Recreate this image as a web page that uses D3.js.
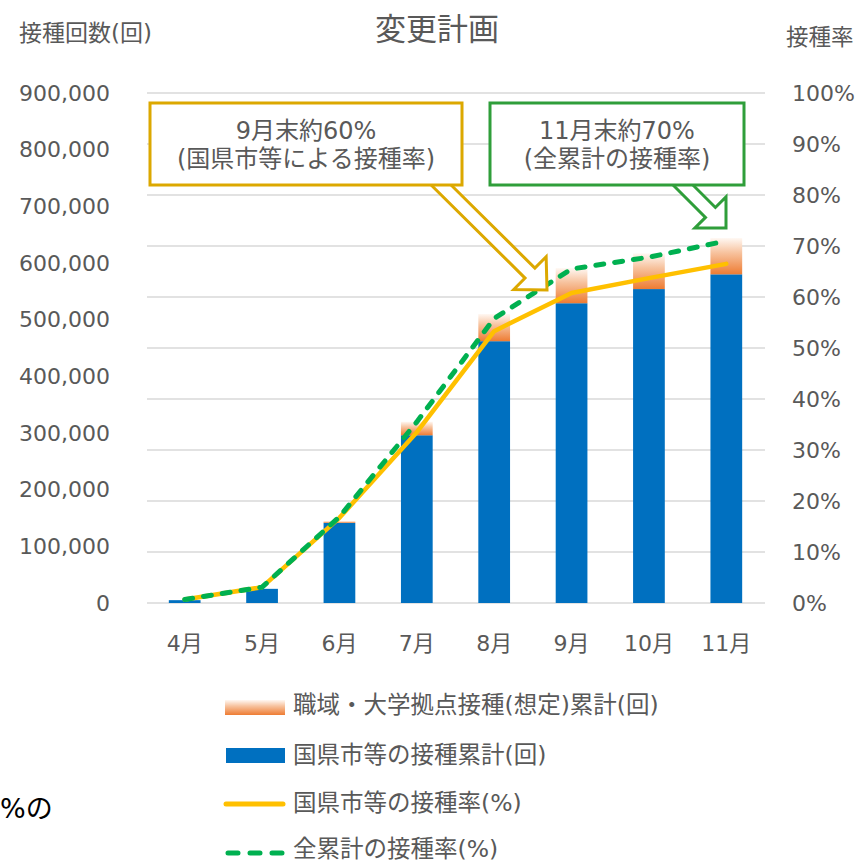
<!DOCTYPE html>
<html>
<head>
<meta charset="utf-8">
<script src="https://cdn.jsdelivr.net/npm/d3@7"></script>
<style>
  body { margin: 0; background: #fff; }
  svg { display: block; }
  text { font-family: 'DejaVu Sans', 'Noto Sans CJK JP', sans-serif; fill: #595959; }
</style>
</head>
<body>
<script>
const months = ["4月", "5月", "6月", "7月", "8月", "9月", "10月", "11月"];
// 国県市等の接種累計(回)
const kokenCount = [5000, 25000, 141500, 296000, 462000, 529000, 554000, 580000];
// 職域・大学拠点接種(想定)累計(回)
const shokuikiCount = [0, 0, 3000, 24000, 48000, 62000, 63000, 64000];
// 国県市等の接種率(%)
const kokenRate = [0.7, 3.1, 16.7, 33.5, 53.3, 60.8, 63.7, 66.5];
// 全累計の接種率(%)
const totalRate = [0.7, 3.1, 16.9, 35.5, 55.8, 65.5, 67.8, 71.0];

const countTicks = [0, 100000, 200000, 300000, 400000, 500000, 600000, 700000, 800000, 900000];
const rateTicks = [0, 10, 20, 30, 40, 50, 60, 70, 80, 90, 100];

const legendLabels = [
    "職域・大学拠点接種(想定)累計(回)",
    "国県市等の接種累計(回)",
    "国県市等の接種率(%)",
    "全累計の接種率(%)"
];

const W = 861, H = 862;
const plot = { left: 146, right: 765, top: 93, bottom: 603 };

const svg = d3.select("body")
    .append("svg")
    .attr("width", W)
    .attr("height", H);

const defs = svg.append("defs");
const grad = defs.append("linearGradient")
    .attr("id", "orangeGrad")
    .attr("x1", 0).attr("y1", 0).attr("x2", 0).attr("y2", 1);
grad.append("stop").attr("offset", "0%").attr("stop-color", "#fff8f3");
grad.append("stop").attr("offset", "40%").attr("stop-color", "#f7c39f");
grad.append("stop").attr("offset", "100%").attr("stop-color", "#ee7c33");

const x = d3.scaleBand()
    .domain(months)
    .range([plot.left, plot.right])
    .paddingInner(0.59)
    .paddingOuter(0.295);
const yCount = d3.scaleLinear().domain([0, 900000]).range([plot.bottom, plot.top]);
const yRate = d3.scaleLinear().domain([0, 100]).range([plot.bottom, plot.top]);

// gridlines (from right axis)
svg.append("g")
    .selectAll("line")
    .data(rateTicks)
    .enter().append("line")
    .attr("x1", plot.left + 1)
    .attr("x2", plot.right)
    .attr("y1", d => yRate(d))
    .attr("y2", d => yRate(d))
    .attr("stroke", "#d9d9d9")
    .attr("stroke-width", 1.3);

/**
 * Axes
 */
const leftAxis = svg.append("g")
    .attr("transform", "translate(" + plot.left + ",0)")
    .call(d3.axisLeft(yCount).tickValues(countTicks).tickFormat(d3.format(",")).tickSize(0).tickPadding(36));
const rightAxis = svg.append("g")
    .attr("transform", "translate(" + plot.right + ",0)")
    .call(d3.axisRight(yRate).tickValues(rateTicks).tickFormat(d => d + "%").tickSize(0).tickPadding(27));
const bottomAxis = svg.append("g")
    .attr("transform", "translate(0," + plot.bottom + ")")
    .call(d3.axisBottom(x).tickSize(0).tickPadding(32));

[leftAxis, rightAxis, bottomAxis].forEach(a => {
    a.select(".domain").remove();
    a.selectAll("text")
        .style("font-family", "'DejaVu Sans', 'Noto Sans CJK JP', sans-serif")
        .style("font-size", "22px")
        .attr("fill", "#595959");
});

/**
 * Bars
 */
const bw = x.bandwidth();
svg.append("g")
    .selectAll("rect")
    .data(months)
    .enter().append("rect")
    .attr("x", d => x(d))
    .attr("width", bw)
    .attr("y", (d, i) => yCount(kokenCount[i]))
    .attr("height", (d, i) => yCount(0) - yCount(kokenCount[i]))
    .attr("fill", "#0070c0");

svg.append("g")
    .selectAll("rect")
    .data(months.filter((d, i) => shokuikiCount[i] > 0))
    .enter().append("rect")
    .attr("x", d => x(d))
    .attr("width", bw)
    .attr("y", d => {
        const i = months.indexOf(d);
        return yCount(kokenCount[i] + shokuikiCount[i]);
    })
    .attr("height", d => {
        const i = months.indexOf(d);
        return yCount(kokenCount[i]) - yCount(kokenCount[i] + shokuikiCount[i]);
    })
    .attr("fill", "url(#orangeGrad)");

/**
 * Lines
 */
const cx = d => x(d) + bw / 2;

const yellowLine = d3.line()
    .x(d => cx(d))
    .y((d, i) => yRate(kokenRate[i]));
const greenLine = d3.line()
    .x(d => cx(d))
    .y((d, i) => yRate(totalRate[i]));

svg.append("path")
    .datum(months)
    .attr("d", yellowLine)
    .attr("fill", "none")
    .attr("stroke", "#ffc000")
    .attr("stroke-width", 4.5)
    .attr("stroke-linejoin", "round")
    .attr("stroke-linecap", "round");

svg.append("path")
    .datum(months)
    .attr("d", greenLine)
    .attr("fill", "none")
    .attr("stroke", "#00b050")
    .attr("stroke-width", 5)
    .attr("stroke-dasharray", "8,11")
    .attr("stroke-linecap", "round");

/**
 * Callouts
 */
function arrowPath(sx, sy, tx, ty, shaftW, headW, headL) {
    const len = Math.hypot(tx - sx, ty - sy);
    const ux = (tx - sx) / len, uy = (ty - sy) / len;
    const nx = -uy, ny = ux;
    const bx = tx - ux * headL, by = ty - uy * headL;
    const p = [
        [sx + nx * shaftW / 2, sy + ny * shaftW / 2],
        [bx + nx * shaftW / 2, by + ny * shaftW / 2],
        [bx + nx * headW / 2, by + ny * headW / 2],
        [tx, ty],
        [bx - nx * headW / 2, by - ny * headW / 2],
        [bx - nx * shaftW / 2, by - ny * shaftW / 2],
        [sx - nx * shaftW / 2, sy - ny * shaftW / 2]
    ];
    return "M" + p.map(q => q.join(",")).join("L") + "Z";
}

const callouts = [
    { box: [150, 103, 312, 82], color: "#dca800", lines: ["9月末約60%", "(国県市等による接種率)"],
      arrow: [431, 175, 547, 290, 14, 46, 24] },
    { box: [490, 103, 254, 82], color: "#2f9e3a", lines: ["11月末約70%", "(全累計の接種率)"],
      arrow: [673, 175, 726, 228, 14, 44, 22] }
];

callouts.forEach(c => {
    svg.append("path")
        .attr("d", arrowPath(...c.arrow))
        .attr("fill", "#fff")
        .attr("stroke", c.color)
        .attr("stroke-width", 3);
    svg.append("rect")
        .attr("x", c.box[0]).attr("y", c.box[1])
        .attr("width", c.box[2]).attr("height", c.box[3])
        .attr("fill", "#fff")
        .attr("stroke", c.color)
        .attr("stroke-width", 3);
    c.lines.forEach((t, i) => {
        svg.append("text")
            .attr("x", c.box[0] + c.box[2] / 2)
            .attr("y", 139 + i * 28)
            .attr("text-anchor", "middle")
            .style("font-size", "24px")
            .text(t);
    });
});

/**
 * Titles
 */
svg.append("text")
    .attr("x", 437).attr("y", 40)
    .attr("text-anchor", "middle")
    .style("font-size", "31px")
    .text("変更計画");
svg.append("text")
    .attr("x", 19).attr("y", 41)
    .style("font-size", "23px")
    .text("接種回数(回)");
svg.append("text")
    .attr("x", 786).attr("y", 45)
    .style("font-size", "22.5px")
    .text("接種率");

/**
 * Legend
 */
const legendY = [705, 755, 803, 849];
const lg = svg.append("g");
lg.append("rect").attr("x", 225).attr("y", 700).attr("width", 60).attr("height", 15).attr("fill", "url(#orangeGrad)");
lg.append("rect").attr("x", 226).attr("y", 748).attr("width", 59).attr("height", 15).attr("fill", "#0070c0");
lg.append("line").attr("x1", 226).attr("x2", 283).attr("y1", 804).attr("y2", 804)
    .attr("stroke", "#ffc000").attr("stroke-width", 5).attr("stroke-linecap", "round");
lg.append("line").attr("x1", 228).attr("x2", 283).attr("y1", 853).attr("y2", 853)
    .attr("stroke", "#00b050").attr("stroke-width", 5).attr("stroke-dasharray", "10,12").attr("stroke-linecap", "round");

lg.selectAll("text.lab")
    .data(legendLabels)
    .enter().append("text")
    .attr("class", "lab")
    .attr("x", 293)
    .attr("y", (d, i) => legendY[i])
    .attr("dy", "0.36em")
    .style("font-size", "23.5px")
    .text(d => d);

// slide text at the left edge
svg.append("text")
    .attr("x", 0).attr("y", 818)
    .style("font-size", "27px")
    .style("fill", "#000")
    .text("%の");
</script>
</body>
</html>
